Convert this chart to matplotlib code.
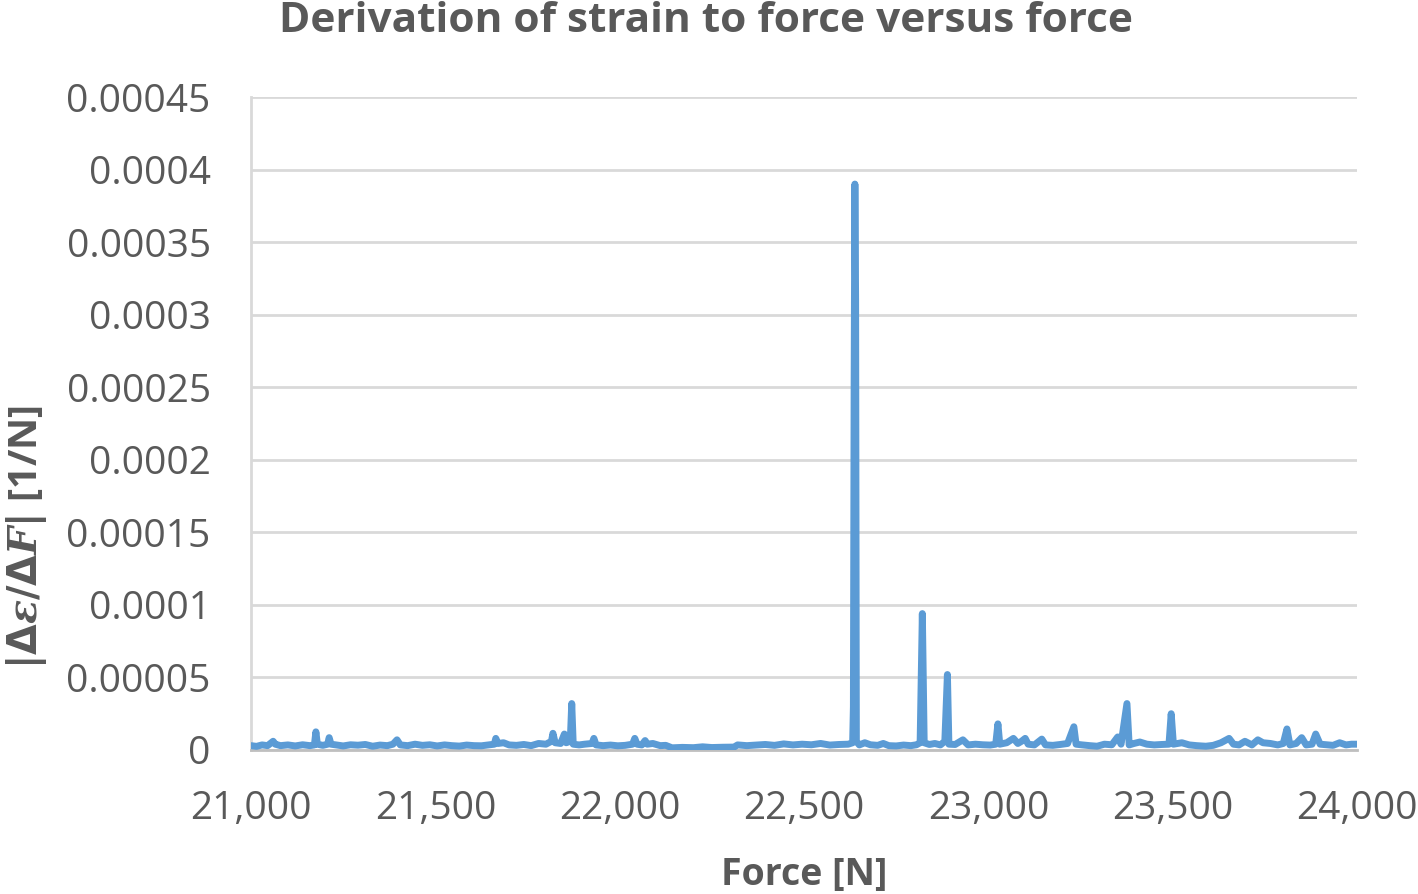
import numpy as np
import matplotlib.pyplot as plt
from matplotlib.ticker import FuncFormatter

# force [N] and |d strain / d force| in units of 1e-6 1/N
force = [21000, 21015, 21030, 21045, 21055, 21060, 21066, 21080, 21100, 21120,
         21140, 21160, 21172, 21176, 21180, 21195, 21208, 21212, 21217, 21230,
         21250, 21270, 21290, 21310, 21330, 21350, 21370, 21385, 21396, 21405,
         21425, 21445, 21465, 21485, 21505, 21525, 21545, 21565, 21585, 21605,
         21625, 21645, 21660, 21664, 21670, 21685, 21700, 21720, 21740, 21760,
         21780, 21800, 21815, 21819, 21825, 21840, 21850, 21855, 21866, 21870,
         21874, 21890, 21905, 21925, 21930, 21936, 21955, 21975, 21995, 22015,
         22035, 22041, 22047, 22060, 22069, 22075, 22090, 22110, 22125, 22142,
         22170, 22200, 22225, 22250, 22280, 22310, 22320, 22345, 22370, 22395,
         22420, 22445, 22470, 22495, 22520, 22545, 22570, 22595, 22620, 22632,
         22634, 22636, 22638, 22640, 22642, 22650, 22665, 22680, 22700, 22715,
         22730, 22750, 22770, 22790, 22805, 22815, 22821, 22826, 22840, 22855,
         22870, 22882, 22889, 22893, 22910, 22931, 22945, 22965, 22985, 23005,
         23020, 23026, 23031, 23050, 23068, 23080, 23090, 23100, 23108, 23125,
         23145, 23155, 23175, 23195, 23215, 23232, 23238, 23255, 23275, 23295,
         23315, 23335, 23351, 23360, 23376, 23382, 23395, 23411, 23430, 23450,
         23470, 23490, 23496, 23502, 23525, 23545, 23565, 23590, 23610, 23631,
         23653, 23665, 23680, 23696, 23715, 23731, 23745, 23765, 23785, 23800,
         23810, 23818, 23835, 23850, 23862, 23878, 23888, 23900, 23920, 23935,
         23953, 23970, 23985, 24000]
deriv_micro = [3, 2.5, 3.5, 3, 5, 6, 4, 3, 3.5, 2.8,
               3.6, 3, 3.5, 12.5, 4, 3.2, 4, 8.5, 4, 3.5,
               2.8, 3.6, 3.3, 3.8, 2.6, 3.4, 3, 4, 7, 3.5,
               3, 4, 3.2, 3.6, 2.8, 3.5, 3, 2.7, 3.4, 3,
               2.9, 3.5, 4, 8, 4.5, 5, 3.5, 3.2, 3.8, 3,
               4.5, 4, 6, 11.5, 5, 4.5, 11, 5, 6, 32,
               4, 3.5, 4, 4.5, 8, 3.5, 3, 3.4, 2.9, 3.2,
               4, 8, 4, 3.5, 6.5, 4, 4.5, 3, 3.2, 1.5,
               1.8, 1.6, 2.2, 1.7, 1.9, 2, 3.5, 3, 3.4, 3.8,
               3.2, 4.2, 3.5, 4, 3.6, 4.5, 3.4, 3.8, 4, 5,
               30, 250, 390, 310, 6, 3.5, 5, 3.6, 3.2, 4.5,
               3, 2.8, 3.4, 3, 3.6, 5, 94, 5, 3.8, 4.5,
               3.5, 6, 52, 4, 3.8, 7, 3.5, 4, 3.6, 3.4,
               4, 18, 4, 5, 8, 4.5, 6, 8, 4, 3.5,
               7.5, 3.5, 3.2, 3.8, 4.5, 16, 4, 3.5, 3, 2.6,
               4, 3.6, 9, 4, 32, 3.5, 4.5, 5.5, 4, 3.5,
               3.8, 4, 25, 4, 5, 3.5, 3, 2.6, 3.2, 5,
               8, 4, 3.5, 6, 3.5, 7, 5, 4.5, 3.5, 4.5,
               14.5, 3.5, 4.5, 8.5, 3.5, 4, 11, 4, 3.5, 3.2,
               5, 3.5, 4, 4]

y_ticks = [0, 0.00005, 0.0001, 0.00015, 0.0002, 0.00025, 0.0003, 0.00035, 0.0004, 0.00045]
y_labels = ['0', '0.00005', '0.0001', '0.00015', '0.0002', '0.00025', '0.0003', '0.00035', '0.0004', '0.00045']
x_ticks = [21000, 21500, 22000, 22500, 23000, 23500, 24000]

txt = '#595959'
plt.rcParams['font.family'] = ['Open Sans', 'DejaVu Sans']
plt.rcParams['mathtext.fontset'] = 'custom'
plt.rcParams['mathtext.rm'] = 'DejaVu Sans:bold'
plt.rcParams['mathtext.it'] = 'DejaVu Serif:italic:bold'
plt.rcParams['mathtext.bf'] = 'DejaVu Sans:bold'

fig = plt.figure(figsize=(14.18, 8.94), dpi=100)
ax = fig.add_axes([251/1418, 1-750/894, 1106/1418, 653/894])

ax.plot(force, np.array(deriv_micro)*1e-6, color='#5b9bd5', lw=5,
        solid_joinstyle='round', solid_capstyle='round', zorder=3)

ax.set_xlim(21000, 24000)
ax.set_ylim(0, 0.00045)
ax.set_yticks(y_ticks)
ax.set_yticklabels(y_labels)
ax.set_xticks(x_ticks)
ax.xaxis.set_major_formatter(FuncFormatter(lambda v, p: '{:,.0f}'.format(v)))
ax.tick_params(length=0, labelsize=28, labelcolor=txt)
ax.tick_params(axis='y', pad=29)
ax.tick_params(axis='x', pad=29)

ax.grid(axis='y', color='#d9d9d9', lw=2, zorder=0)
for s in ['top', 'right']:
    ax.spines[s].set_visible(False)
ax.spines['left'].set_color('#d9d9d9')
ax.spines['left'].set_linewidth(2)
ax.spines['bottom'].set_color('#bfbfbf')
ax.spines['bottom'].set_linewidth(2)

fig.text(0.498, 0.976, 'Derivation of strain to force versus force', fontsize=30.5,
         fontweight='bold', color=txt, ha='center', va='center')
ax.set_xlabel('Force [N]', fontsize=27, fontweight='bold', color=txt, labelpad=20)
ax.set_ylabel(r'$|\Delta\mathit{\varepsilon}/\Delta \mathit{F}|$ [1/N]', fontsize=28.5,
              fontweight='bold', color=txt)
ax.yaxis.set_label_coords(-0.183, 0.326)

fig.savefig('out.png', dpi=100)
